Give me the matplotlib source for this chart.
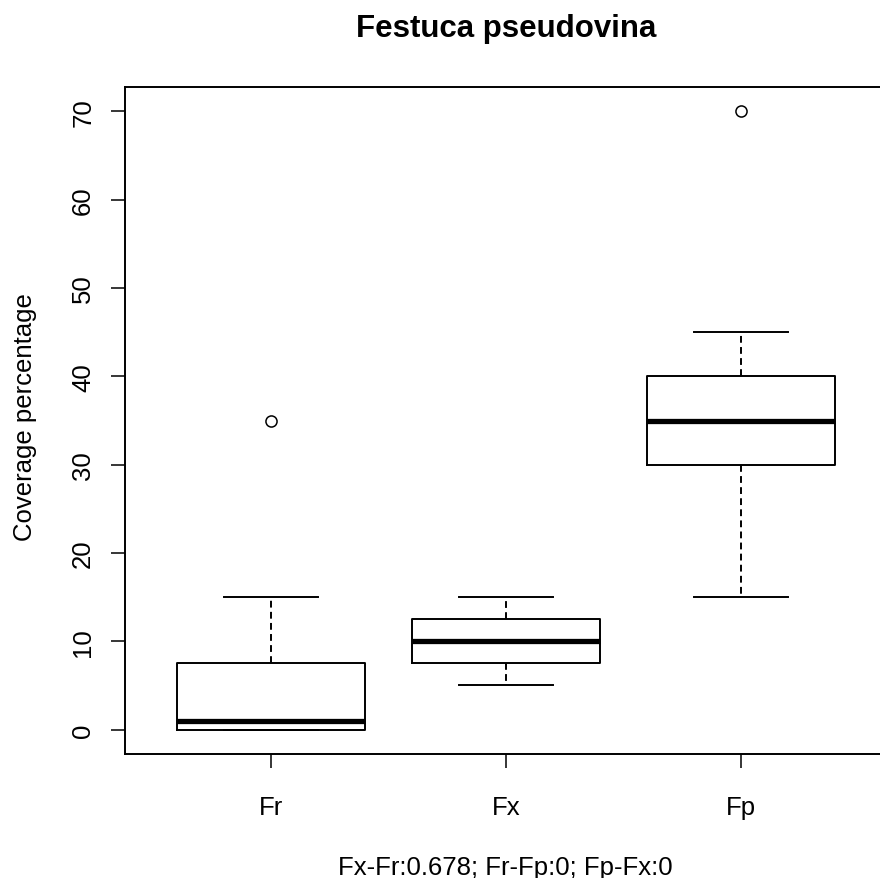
import matplotlib
matplotlib.use("Agg")
import matplotlib.pyplot as plt

# box statistics
groups = ["Fr", "Fx", "Fp"]
whislo = [0, 5, 15]
q1 = [0, 7.5, 30]
med = [1, 10, 35]
q3 = [7.5, 12.5, 40]
whishi = [15, 15, 45]
fliers = [[35], [], [70]]

title = "Festuca pseudovina"
ylab = "Coverage percentage"
subtitle = "Fx-Fr:0.678; Fr-Fp:0; Fp-Fx:0"
yticks = [0, 10, 20, 30, 40, 50, 60, 70]

plt.rcParams['font.family'] = ['Liberation Sans', 'DejaVu Sans']

W, H = 880, 879
fig = plt.figure(figsize=(W / 100, H / 100), dpi=100, facecolor="white")

# axes box in pixels: left 125, right 886 (cropped off the image), top 87.7, bottom 755.3
left, right, top, bottom = 125, 886.4, 87.7, 755.3
ax = fig.add_axes([left / W, (H - bottom) / H, (right - left) / W, (bottom - top) / H])

stats = []
for i in range(len(groups)):
    stats.append(dict(label=groups[i], whislo=whislo[i], q1=q1[i], med=med[i],
                      q3=q3[i], whishi=whishi[i], fliers=fliers[i]))

lw = 1.4
dash = (0, (3.5, 2.2))
ax.bxp(stats, positions=[1, 2, 3], widths=0.8, showfliers=True,
       boxprops=dict(color="black", linewidth=lw),
       medianprops=dict(color="black", linewidth=3.8, solid_capstyle="butt"),
       whiskerprops=dict(color="black", linewidth=lw, linestyle=dash),
       capprops=dict(color="black", linewidth=lw),
       flierprops=dict(marker="o", markerfacecolor="none", markeredgecolor="black",
                       markersize=8, markeredgewidth=1.1, linestyle="none"))

ax.set_xlim(0.38, 3.62)
ax.set_ylim(-2.8, 72.8)
ax.set_xticks([1, 2, 3])
ax.set_xticklabels(groups)
ax.set_yticks(yticks)
ax.set_yticklabels([str(v) for v in yticks], rotation=90, va="center")
for s in ax.spines.values():
    s.set_linewidth(1.4)
ax.tick_params(direction="out", length=10, width=1.1, labelsize=18.5, colors="black")
ax.tick_params(axis="x", pad=19)
ax.tick_params(axis="y", pad=11.5)

cx = (left + right) / 2 / W
fig.text(cx, 1 - 36.7 / H, title, ha="center", va="baseline", fontsize=22.5, fontweight="bold")
fig.text(cx, 1 - 875 / H, subtitle, ha="center", va="baseline", fontsize=18.5)
fig.text(31.7 / W, 1 - 417.5 / H, ylab, ha="center", va="baseline", rotation=90,
         rotation_mode="anchor", fontsize=18.5)

fig.savefig("out.png", dpi=100, facecolor="white")
